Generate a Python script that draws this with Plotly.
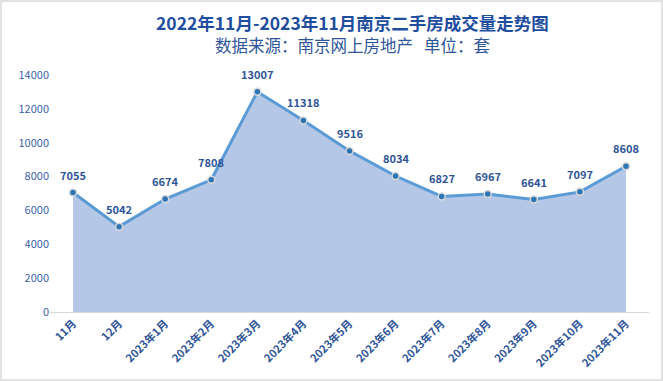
import plotly.graph_objects as go

categories = ["11月", "12月", "2023年1月", "2023年2月", "2023年3月", "2023年4月", "2023年5月",
              "2023年6月", "2023年7月", "2023年8月", "2023年9月", "2023年10月", "2023年11月"]
values = [7055, 5042, 6674, 7808, 13007, 11318, 9516, 8034, 6827, 6967, 6641, 7097, 8608]
y_ticks = [0, 2000, 4000, 6000, 8000, 10000, 12000, 14000]

W, H = 663, 381
ml, mr, mt, mb = 50, 14, 75, 69
pw, ph = W - ml - mr, H - mt - mb

font = "Noto Sans CJK SC, Liberation Sans, sans-serif"
dark = "#2F5597"

xs = list(range(len(categories)))

fig = go.Figure()
fig.add_trace(go.Scatter(
    x=xs, y=values,
    mode="lines+markers",
    fill="tozeroy", fillcolor="#B4C7E7",
    line=dict(color="#5B9BD5", width=3),
    marker=dict(color="#2E75B6", size=7, line=dict(color="#D9D9D9", width=1.5)),
    cliponaxis=False, hoverinfo="skip",
))

label_anns = [dict(x=x, y=v, xref="x", yref="y", text=str(v), showarrow=False,
                   yshift=18, xanchor="center", yanchor="middle",
                   font=dict(family=font, size=11, color=dark, weight="bold"))
              for x, v in zip(xs, values)]

fig.update_layout(
    width=W, height=H, margin=dict(l=ml, r=mr, t=mt, b=mb),
    paper_bgcolor="white", plot_bgcolor="white", showlegend=False,
    font=dict(family=font, color=dark),
    xaxis=dict(range=[-0.5, len(categories) - 0.5], tickmode="array",
               tickvals=xs, ticktext=categories,
               tickangle=-45, showgrid=False, zeroline=False,
               showline=True, linecolor="#D9D9D9", linewidth=1, ticks="",
               tickfont=dict(family=font, size=11, color=dark, weight="bold")),
    yaxis=dict(range=[0, 14000], tickmode="array", tickvals=y_ticks,
               ticktext=[str(v) for v in y_ticks], showgrid=False, zeroline=False,
               showline=False, ticks="", tickfont=dict(family=font, size=11, color="#3A5FA8")),
    annotations=label_anns + [
        dict(text="2022年11月-2023年11月南京二手房成交量走势图", xref="paper", yref="paper",
             x=(352 - ml) / pw, y=1 + (mt - 22) / ph, yanchor="middle", xanchor="center",
             showarrow=False,
             font=dict(family=font, size=17.5, color="#1F4E9F", weight="bold")),
        dict(text="数据来源：南京网上房地产   单位：套", xref="paper", yref="paper",
             x=(352 - ml) / pw, y=1 + (mt - 45) / ph, yanchor="middle", xanchor="center",
             showarrow=False,
             font=dict(family=font, size=16.5, color=dark)),
    ],
    shapes=[dict(type="rect", xref="paper", yref="paper",
                 x0=-(ml - 1) / pw, x1=1 + (mr - 1) / pw,
                 y0=-(mb - 1) / ph, y1=1 + (mt - 1) / ph,
                 line=dict(color="#D9D9D9", width=1.5))],
)

fig.write_html("out.html", config={"displayModeBar": False},
               post_script="document.body.style.margin='0';")
